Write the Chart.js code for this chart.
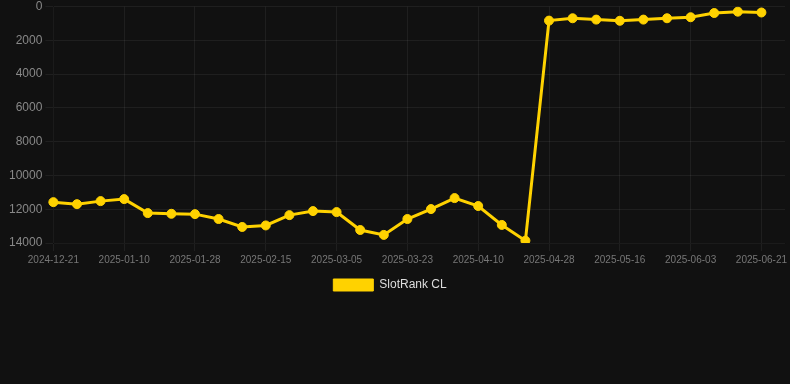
<!DOCTYPE html>
<html>
<head>
<meta charset="utf-8">
<script src="https://cdn.jsdelivr.net/npm/chart.js@4.4.1/dist/chart.umd.min.js"></script>
<style>
    html, body { margin: 0; padding: 0; background: #111111; }
    #wrap { width: 790px; height: 301px; }
</style>
</head>
<body>
<div id="wrap"><canvas id="rankChart"></canvas></div>
<script>
// dates on the x axis (last one has no value yet)
const dateLabels = [
    '2024-12-21', '2024-12-28', '2025-01-04', '2025-01-10', '2025-01-16', '2025-01-22',
    '2025-01-28', '2025-02-03', '2025-02-09', '2025-02-15', '2025-02-21', '2025-02-27',
    '2025-03-05', '2025-03-11', '2025-03-17', '2025-03-23', '2025-03-29', '2025-04-04',
    '2025-04-10', '2025-04-16', '2025-04-22', '2025-04-28', '2025-05-04', '2025-05-10',
    '2025-05-16', '2025-05-22', '2025-05-28', '2025-06-03', '2025-06-09', '2025-06-15',
    '2025-06-21', '2025-06-27'
];

// rank values
const rankCL = [
    11580, 11700, 11520, 11400, 12230, 12270, 12290, 12580, 13050, 12960,
    12350, 12110, 12170, 13230, 13520, 12580, 11990, 11340, 11810, 12930,
    13860, 830, 690, 770, 840, 770, 690, 630, 380, 300,
    350
];

const rankTicks = [0, 2000, 4000, 6000, 8000, 10000, 12000, 14000];

const gold = '#FFD200';

// nudge the legend a bit left, like the original
const legendShift = {
    id: 'legendShift',
    afterLayout(chart) {
        chart.legend.left -= 8;
        chart.legend.right -= 8;
    }
};

const ctx = document.getElementById('rankChart').getContext('2d');
let rankChart = new Chart(ctx, {
    type: 'line',
    data: {
        labels: dateLabels,
        datasets: [{
            label: 'SlotRank CL',
            data: rankCL,
            borderColor: gold,
            backgroundColor: gold,
            borderWidth: 3,
            pointRadius: 4.5,
            pointBorderWidth: 1,
            pointBackgroundColor: gold,
            pointBorderColor: gold,
            tension: 0
        }]
    },
    options: {
        responsive: true,
        maintainAspectRatio: false,
        animation: false,
        layout: { autoPadding: false, padding: { left: 6 } },
        scales: {
            x: {
                grid: { color: 'rgba(255,255,255,0.06)' },
                ticks: {
                    color: '#777',
                    font: { family: 'Liberation Sans, Arial', size: 10 },
                    maxRotation: 0,
                    autoSkip: true
                }
            },
            y: {
                reverse: true,
                min: rankTicks[0],
                max: rankTicks[rankTicks.length - 1],
                grid: { color: 'rgba(255,255,255,0.06)' },
                ticks: {
                    stepSize: 2000,
                    color: '#888',
                    font: { family: 'Liberation Sans, Arial', size: 12, lineHeight: 0.6 },
                    callback: (v) => String(v)
                }
            }
        },
        plugins: {
            legend: {
                position: 'bottom',
                labels: {
                    color: '#ddd',
                    boxWidth: 40,
                    font: { family: 'Liberation Sans, Arial', size: 12 },
                    generateLabels: (chart) => {
                        const items = Chart.defaults.plugins.legend.labels.generateLabels(chart);
                        items.forEach(it => { it.lineWidth = 1; });
                        return items;
                    }
                }
            },
            tooltip: { enabled: false }
        }
    },
    plugins: [legendShift]
});
</script>
</body>
</html>
